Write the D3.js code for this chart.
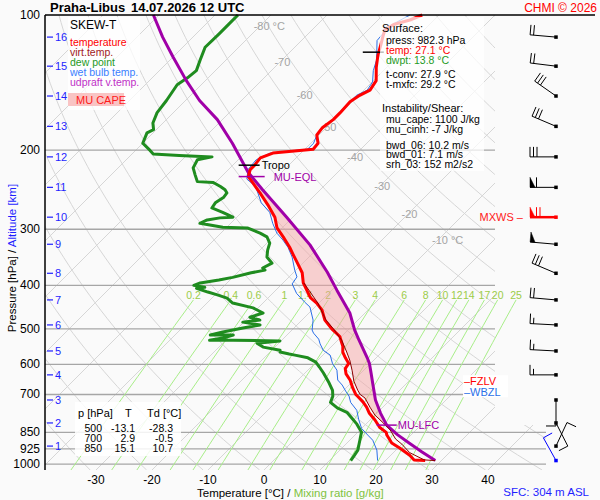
<!DOCTYPE html>
<html><head><meta charset="utf-8">
<script src="https://cdn.jsdelivr.net/npm/d3@7"></script>
<style>
body{margin:0;background:#fafafa;}
svg{font-family:Arial,"Liberation Sans",sans-serif;}
</style></head>
<body>
<svg id="chart" width="600" height="500"></svg>
<script>
// sounding Praha-Libus 14.07.2026 12 UTC, [p hPa, T degC]
var tempData = [[982.3,27.1],[979,25.0],[956,23.4],[922,20.4],[898,18.0],[862,15.7],[850,15.1],[828,13.0],[798,10.9],[771,8.7],[747,7.1],[727,5.5],[709,3.8],[700,2.9],[677,1.2],[654,-0.4],[650,-0.7],[630,-2.5],[613,-3.6],[597,-3.9],[580,-5.5],[563,-7.0],[547,-8.0],[520,-10.3],[500,-13.1],[478,-15.9],[454,-18.2],[438,-20.4],[426,-22.5],[395,-26.4],[375,-28.4],[356,-31.1],[342,-33.2],[329,-35.2],[312,-38.2],[298,-40.9],[282,-43.2],[265,-46.6],[249,-50.2],[236,-53.4],[229,-55.2],[221,-56.1],[216,-56.1],[208,-56.4],[203,-55.0],[199,-48.5],[193,-48.7],[185,-50.4],[178,-50.7],[171,-50.2],[165,-50.2],[156,-50.4],[151,-49.8],[147,-48.9],[140,-49.5],[131,-51.8],[123,-53.7],[115,-55.4],[112,-56.1],[108,-57.0],[105,-56.4],[102.6,-54.3],[100,-53.0]];
var virtData = [[982.3,28.9],[979,26.8],[943,22.9],[903,20.0],[880,18.0],[840,15.4],[810,12.9],[778,10.0],[747,7.7],[713,5.2],[700,3.7],[685,2.5],[654,0.2],[618,-2.1],[587,-4.3],[563,-6.3],[530,-9.3],[500,-12.8],[478,-15.7],[438,-20.2],[395,-26.3]];
var dewData = [[982.3,13.8],[955,13.5],[931,13.2],[885,11.8],[857,10.9],[850,10.7],[815,8.4],[790,6.4],[767,4.5],[750,2.0],[729,-0.2],[706,-0.9],[685,-2.0],[660,-3.9],[627,-6.7],[608,-8.5],[593,-10.0],[580,-12.2],[572,-15.0],[569,-16.2],[563,-18.2],[558,-18.5],[549,-22.1],[538,-23.9],[532,-20.2],[530,-28.7],[530,-32.9],[524,-30.9],[516,-29.6],[516,-33.7],[508,-32.0],[498,-29.1],[490,-26.6],[483,-30.2],[478,-27.5],[471,-29.8],[461,-28.2],[449,-30.9],[438,-35.4],[427,-37.3],[420,-39.6],[414,-41.8],[406,-44.5],[404,-43.2],[400,-45.5],[395,-44.8],[389,-42.0],[384,-40.0],[375,-37.5],[370,-35.5],[366,-36.3],[357,-35.5],[346,-37.5],[334,-38.6],[322,-39.5],[312,-41.1],[306,-43.0],[298,-46.2],[297,-50.7],[291,-55.5],[286,-54.8],[283,-52.9],[282,-50.7],[275,-53.4],[269,-56.1],[262,-56.4],[255,-55.9],[249,-56.1],[245,-57.0],[241,-58.4],[236,-60.4],[235,-63.4],[227,-65.0],[219,-66.6],[210,-67.3],[207,-65.2],[205.5,-71.3],[204,-76.2],[200,-77.5],[193,-80.0],[183,-81.1],[180,-80.5],[174,-81.8],[165,-82.9],[155,-83.4],[143,-84.3],[138,-83.7],[133,-83.4],[126,-84.6],[118,-86.0],[110,-85.9],[104,-85.9],[100,-85.9]];
var wetData = [[982.3,18.6],[931,16.6],[885,14.1],[862,12.3],[833,10.0],[796,7.9],[759,5.9],[729,3.4],[706,2.0],[688,0.5],[667,-1.2],[650,-2.9],[618,-4.8],[597,-6.8],[572,-8.7],[558,-10.8],[540,-12.5],[527,-13.6],[511,-15.6],[503,-16.4],[478,-18.0],[447,-20.9],[436,-22.7],[417,-25.7],[397,-28.2],[383,-28.6],[370,-30.2],[346,-33.0],[329,-35.5],[317,-37.7],[306,-40.0],[291,-42.5],[275,-45.0],[262,-48.2],[241,-52.1],[232,-55.0],[221,-56.5],[210,-56.8],[203,-55.5],[199,-49.5],[193,-49.5],[183,-50.6],[176,-50.6],[169,-50.2],[163,-50.4],[151,-50.4],[147,-49.4],[141,-49.9],[133,-51.8],[126,-53.1],[114,-56.5],[110,-56.7],[106,-56.9],[101,-55.5],[100,-55.2]];
var parcelData = [[982.3,28.9],[940,25.0],[898,21.1],[860,17.5],[819,13.9],[771,10.7],[720,7.4],[672,4.6],[627,1.8],[597,-0.2],[580,-1.6],[530,-6.2],[503,-8.8],[461,-12.7],[410,-19.1],[374,-24.0],[325,-32.0],[282,-41.1],[245,-50.3],[224,-56.0],[193,-64.0],[171,-70.9],[155,-77.5],[140,-83.4],[124,-90.0],[112,-95.4],[100,-101.0]];

// axes
var pressureTicks = [100, 200, 300, 400, 500, 600, 700, 850, 925, 1000];
var tempTicks = [-30, -20, -10, 0, 10, 20, 30, 40];
var altKm = [1, 2, 3, 4, 5, 6, 7, 8, 9, 10, 11, 12, 13, 14, 15, 16];
var altP = [912, 810, 720, 633, 560, 490, 431, 376, 324, 282, 242, 207, 177, 151.5, 130, 112];
var mixRatios = [0.2, 0.4, 0.6, 1, 1.4, 2, 3, 4, 6, 8, 10, 12, 14, 17, 20, 25];
var isoLabels = [-80, -70, -60, -50, -40, -30, -20, -10];
var isoLabelP = [106, 127, 151, 178, 207, 240, 278, 317];

// winds at each km, surface separate
var windDir = [25, 153, 180, 270, 273, 273, 275, 293, 275, 270, 270, 270, 293, 305, 277, 275];
var windSpd = [10, 10, 10, 15, 15, 15, 20, 30, 50, 70, 60, 30, 30, 30, 20, 20];
var sfcP = 982.3, sfcDir = 331, sfcSpd = 10;
var mxwsKm = 10;

// levels
var tropoP = [216, 121];
var eqlP = 229, lfcP = 819, fzlvP = 654, wbzlP = 692;

var tableP = [500, 700, 850];
var tableT = [-13.1, 2.9, 15.1];
var tableTd = [-28.3, -0.5, 10.7];

var surfLines = ['press: 982.3 hPa', 'temp: 27.1 °C', 'dwpt: 13.8 °C', 't-conv: 27.9 °C', 't-mxfc: 29.2 °C'];
var instLines = ['mu_cape: 1100 J/kg', 'mu_cinh: -7 J/kg', 'bwd_06: 10.2 m/s', 'bwd_01: 7.1 m/s', 'srh_03: 152 m2/s2'];

var L = 45, R = 495, T = 15, B = 470;
var y = d3.scaleLog().domain([100, 1031]).range([T, B]);
var xT = d3.scaleLinear().domain([-40, 40]).range([40, 488]);
// skewed x, 45 deg
function sx(t, p) { return xT(t) + (B - y(p)); }

function interp(data, p) {
  for (var i = 0; i < data.length - 1; i++) {
    var a = data[i], b = data[i + 1];
    if (p <= a[0] && p >= b[0]) {
      var f = Math.log(a[0] / p) / Math.log(a[0] / b[0]);
      return a[1] + f * (b[1] - a[1]);
    }
  }
  return null;
}
function tdFromW(w, p) {
  var e = w * p / (622 + w), l = Math.log(e / 6.112);
  return 243.5 * l / (17.67 - l);
}

var svg = d3.select('#chart');
svg.append('rect').attr('width', 600).attr('height', 500).attr('fill', '#fafafa');
svg.append('defs').append('clipPath').attr('id', 'plot')
  .append('path').attr('d', 'M45,15H495V425H546V470H45Z');

var grid = svg.append('g').attr('clip-path', 'url(#plot)');
var line = d3.line().x(d => sx(d[1], d[0])).y(d => y(d[0]));
var pSteps = d3.range(0, 61).map(i => 1031 * Math.pow(100 / 1031, i / 60));

// isotherms
grid.selectAll('.iso').data(d3.range(-170, 50, 10)).enter().append('line')
  .attr('x1', d => sx(d, 1031)).attr('y1', y(1031))
  .attr('x2', d => sx(d, 100)).attr('y2', y(100))
  .attr('stroke', '#d6d6d6').attr('stroke-width', 1);

// dry adiabats
grid.selectAll('.dry').data(d3.range(230, 480, 10)).enter().append('path')
  .attr('d', th => line(pSteps.map(p => [p, th * Math.pow(p / 1000, 0.286) - 273.15])))
  .attr('fill', 'none').attr('stroke', '#d6d6d6').attr('stroke-width', 1);

// pressure lines
grid.selectAll('.pl').data(pressureTicks.slice(1)).enter().append('line')
  .attr('x1', L).attr('x2', 546)
  .attr('y1', d => y(d)).attr('y2', d => y(d))
  .attr('stroke', '#a6a6a6').attr('stroke-width', 1.3);

// mixing ratio lines
var mrTop = 431;
var mrSteps = d3.range(0, 21).map(i => 1031 * Math.pow(mrTop / 1031, i / 20));
svg.selectAll('.mr').data(mixRatios).enter().append('path')
  .attr('d', w => line(mrSteps.map(p => [p, tdFromW(w, p)])))
  .attr('fill', 'none').attr('stroke', '#a8ee88').attr('stroke-width', 1);
svg.selectAll('.mrl').data(mixRatios).enter().append('text')
  .attr('x', w => sx(tdFromW(w, mrTop), mrTop)).attr('y', y(mrTop) - 1)
  .attr('text-anchor', 'middle').attr('font-size', 10.5).attr('fill', '#9ccc48')
  .text(d => d);

// isotherm labels
svg.selectAll('.isol').data(isoLabels).enter().append('text')
  .attr('x', (d, i) => sx(d, isoLabelP[i]) - 6).attr('y', (d, i) => y(isoLabelP[i]) + 4)
  .attr('font-size', 11).attr('fill', '#a4a4a4')
  .text((d, i) => (i == 0 || i == isoLabels.length - 1) ? d + ' °C' : d);

// CAPE area between parcel and environment virtual temperature
function envT(p) { var v = interp(virtData, p); return v == null ? interp(tempData, p) : v; }
var capeSteps = d3.range(0, 81).map(i => lfcP * Math.pow(eqlP / lfcP, i / 80));
var capePts = capeSteps.map(p => [sx(interp(parcelData, p), p), y(p)])
  .concat(capeSteps.slice().reverse().map(p => [sx(envT(p), p), y(p)]));
svg.append('path').attr('d', 'M' + capePts.join('L') + 'Z')
  .attr('fill', '#f4a4a4').attr('fill-opacity', 0.5);

// profiles
function profile(data, color, w) {
  svg.append('path').datum(data).attr('d', line)
    .attr('fill', 'none').attr('stroke', color).attr('stroke-width', w)
    .attr('stroke-linejoin', 'round');
}
profile(wetData, '#2a6fe8', 1);
profile(dewData, '#1f8c1f', 3);
profile(parcelData, '#a000a8', 3);
profile(tempData, '#ff0000', 3);
profile(virtData, '#8b0000', 1);

// level markers
tropoP.forEach(function(p, i) {
  var x0 = sx(interp(tempData, p), p);
  svg.append('line').attr('x1', x0 - 16).attr('x2', x0 + 5).attr('y1', y(p)).attr('y2', y(p))
    .attr('stroke', '#000').attr('stroke-width', 1.5);
  if (i == 0) svg.append('text').attr('x', x0 + 7).attr('y', y(p) + 4)
    .attr('font-size', 11).text('Tropo');
});
var xe = sx(interp(parcelData, eqlP), eqlP);
svg.append('line').attr('x1', xe - 13).attr('x2', xe + 13).attr('y1', y(eqlP)).attr('y2', y(eqlP))
  .attr('stroke', '#a000a8').attr('stroke-width', 1.5);
svg.append('text').attr('x', xe + 22).attr('y', y(eqlP) + 4).attr('font-size', 11)
  .attr('fill', '#a000a8').text('MU-EQL');
var xl = sx(interp(parcelData, lfcP), lfcP);
svg.append('line').attr('x1', xl - 10).attr('x2', xl + 10).attr('y1', y(lfcP)).attr('y2', y(lfcP))
  .attr('stroke', '#a000a8').attr('stroke-width', 1.5);
svg.append('text').attr('x', xl + 11).attr('y', y(lfcP) + 4).attr('font-size', 11)
  .attr('fill', '#a000a8').text('MU-LFC');

// FZLV / WBZL labels
svg.append('rect').attr('x', 463).attr('y', y(fzlvP) - 6).attr('width', 45).attr('height', 11).attr('fill', '#fff');
svg.append('text').attr('x', 464).attr('y', y(fzlvP) + 4).attr('font-size', 11).attr('fill', '#ff0000').text('–FZLV');
svg.append('rect').attr('x', 463).attr('y', y(wbzlP) - 7).attr('width', 45).attr('height', 12).attr('fill', '#fff');
svg.append('text').attr('x', 464).attr('y', y(wbzlP) + 4).attr('font-size', 11).attr('fill', '#2a6fe8').text('–WBZL');

// frame
svg.append('line').attr('x1', L).attr('x2', 595).attr('y1', T).attr('y2', T).attr('stroke', '#000').attr('stroke-width', 1.5);
svg.append('line').attr('x1', L).attr('x2', L).attr('y1', T).attr('y2', B).attr('stroke', '#000').attr('stroke-width', 1.5);

// pressure labels
svg.selectAll('.pt').data(pressureTicks).enter().append('text')
  .attr('x', 40).attr('y', d => y(d) + 4).attr('text-anchor', 'end')
  .attr('font-size', 12).text(d => d);

// altitude ticks
svg.selectAll('.at').data(altP).enter().append('line')
  .attr('x1', 47).attr('x2', 53).attr('y1', d => y(d)).attr('y2', d => y(d))
  .attr('stroke', '#1f1fff').attr('stroke-width', 1.2);
svg.selectAll('.atl').data(altP).enter().append('text')
  .attr('x', 55).attr('y', d => y(d) + 4).attr('font-size', 11).attr('fill', '#1f1fff')
  .text((d, i) => altKm[i]);

// temperature labels
svg.selectAll('.tt').data(tempTicks).enter().append('text')
  .attr('x', d => xT(d)).attr('y', 484).attr('text-anchor', 'middle')
  .attr('font-size', 12).text(d => d);

// axis titles
var xt = svg.append('text').attr('x', 197).attr('y', 497).attr('font-size', 11.5);
xt.append('tspan').text('Temperature [°C]  /  ');
xt.append('tspan').attr('fill', '#7fc241').text('Mixing ratio [g/kg]');
var yt = svg.append('text').attr('transform', 'translate(16,258) rotate(-90)')
  .attr('text-anchor', 'middle').attr('font-size', 11.5);
yt.append('tspan').text('Pressure [hPa]  /  ');
yt.append('tspan').attr('fill', '#1f1fff').text('Altitude [km]');
svg.append('text').attr('x', 589).attr('y', 496).attr('text-anchor', 'end')
  .attr('font-size', 11.5).attr('fill', '#1f1fff').text('SFC: 304 m ASL');

// title
var tt = svg.append('text').attr('x', 50).attr('y', 12).attr('font-size', 13).attr('font-weight', 'bold');
tt.append('tspan').text('Praha-Libus');
tt.append('tspan').attr('x', 131).text('14.07.2026 12 UTC');
svg.append('text').attr('x', 597).attr('y', 12).attr('text-anchor', 'end')
  .attr('font-size', 12).attr('fill', '#ff0000').text('CHMI © 2026');

// legend
svg.append('rect').attr('x', 68).attr('y', 17).attr('width', 72).attr('height', 93).attr('fill', '#fff').attr('fill-opacity', 0.75);
svg.append('text').attr('x', 70).attr('y', 29).attr('font-size', 12).text('SKEW-T');
var legend = [['temperature', '#ff0000'], ['virt.temp.', '#a0201c'], ['dew point', '#1f9a1f'], ['wet bulb temp.', '#3a80ff'], ['udpraft v.temp.', '#c030c8']];
svg.selectAll('.lg').data(legend).enter().append('text')
  .attr('x', 70).attr('y', (d, i) => 46 + i * 10).attr('font-size', 10.5)
  .attr('fill', d => d[1]).text(d => d[0]);
svg.append('rect').attr('x', 68).attr('y', 93).attr('width', 56).attr('height', 13).attr('fill', '#f9c4c4');
svg.append('text').attr('x', 76).attr('y', 104).attr('font-size', 11).attr('fill', '#ff1a1a').text('MU CAPE');

// surface / instability box
svg.append('rect').attr('x', 380).attr('y', 17).attr('width', 104).attr('height', 154).attr('fill', '#fff').attr('fill-opacity', 0.72);
svg.append('text').attr('x', 382).attr('y', 32).attr('font-size', 11).text('Surface:');
var surfColors = ['#000', '#ff0000', '#1f9a1f', '#000', '#000'];
var surfY = [44, 54, 64, 78, 88];
svg.selectAll('.sf').data(surfLines).enter().append('text')
  .attr('x', 386).attr('y', (d, i) => surfY[i]).attr('font-size', 10.5)
  .attr('fill', (d, i) => surfColors[i]).text(d => d);
svg.append('text').attr('x', 382).attr('y', 112).attr('font-size', 11).text('Instability/Shear:');
var instY = [123, 133, 149, 158, 168];
svg.selectAll('.in').data(instLines).enter().append('text')
  .attr('x', 386).attr('y', (d, i) => instY[i]).attr('font-size', 10.5).text(d => d);

// table
svg.append('rect').attr('x', 75).attr('y', 402).attr('width', 106).attr('height', 54).attr('fill', '#fff').attr('fill-opacity', 0.85);
svg.append('text').attr('x', 78).attr('y', 417).attr('font-size', 11).text('p [hPa]');
svg.append('text').attr('x', 125).attr('y', 417).attr('font-size', 11).text('T');
svg.append('text').attr('x', 147).attr('y', 417).attr('font-size', 11).text('Td [°C]');
tableP.forEach(function(p, i) {
  var yy = 432 + i * 10;
  svg.append('text').attr('x', 102).attr('y', yy).attr('text-anchor', 'end').attr('font-size', 10.5).text(p);
  svg.append('text').attr('x', 135).attr('y', yy).attr('text-anchor', 'end').attr('font-size', 10.5).text(tableT[i].toFixed(1));
  svg.append('text').attr('x', 173).attr('y', yy).attr('text-anchor', 'end').attr('font-size', 10.5).text(tableTd[i].toFixed(1));
});

// wind barbs
var barbs = svg.append('g');
function barb(cx, cy, dir, spd, color, sw) {
  var a = dir * Math.PI / 180;
  var ux = Math.sin(a), uy = -Math.cos(a);
  var vx = Math.cos(a), vy = Math.sin(a);
  var ex = cx + ux * 26, ey = cy + uy * 26;
  barbs.append('line').attr('x1', cx).attr('y1', cy).attr('x2', ex).attr('y2', ey)
    .attr('stroke', color).attr('stroke-width', sw);
  var d = 0, s = Math.round(spd / 5) * 5;
  while (s >= 50) {
    var bx = ex - ux * d, by = ey - uy * d;
    barbs.append('path').attr('d', 'M' + bx + ',' + by + 'L' + (bx + vx * 10) + ',' + (by + vy * 10) + 'L' + (bx - ux * 5) + ',' + (by - uy * 5) + 'Z')
      .attr('fill', color).attr('stroke', color).attr('stroke-width', 0.5);
    d += 6.5; s -= 50;
  }
  while (s >= 5) {
    var len = s >= 10 ? 10 : 6;
    var qx = ex - ux * d, qy = ey - uy * d;
    barbs.append('line').attr('x1', qx).attr('y1', qy).attr('x2', qx + vx * len).attr('y2', qy + vy * len)
      .attr('stroke', color).attr('stroke-width', 1);
    d += 3.5; s -= len;
  }
  barbs.append('rect').attr('x', cx - 1.75).attr('y', cy - 1.75).attr('width', 3.5).attr('height', 3.5).attr('fill', color);
}
altP.forEach(function(p, i) {
  var mx = altKm[i] == mxwsKm;
  barb(556, y(p), windDir[i], windSpd[i], mx ? '#ff0000' : '#000', mx ? 2.5 : 1);
});
barb(556, y(sfcP), sfcDir, sfcSpd, '#0000ff', 1);
svg.append('text').attr('x', 523).attr('y', y(altP[mxwsKm - 1]) + 4).attr('text-anchor', 'end')
  .attr('font-size', 11).attr('fill', '#ff2020').text('MXWS –');
</script>
</body></html>
